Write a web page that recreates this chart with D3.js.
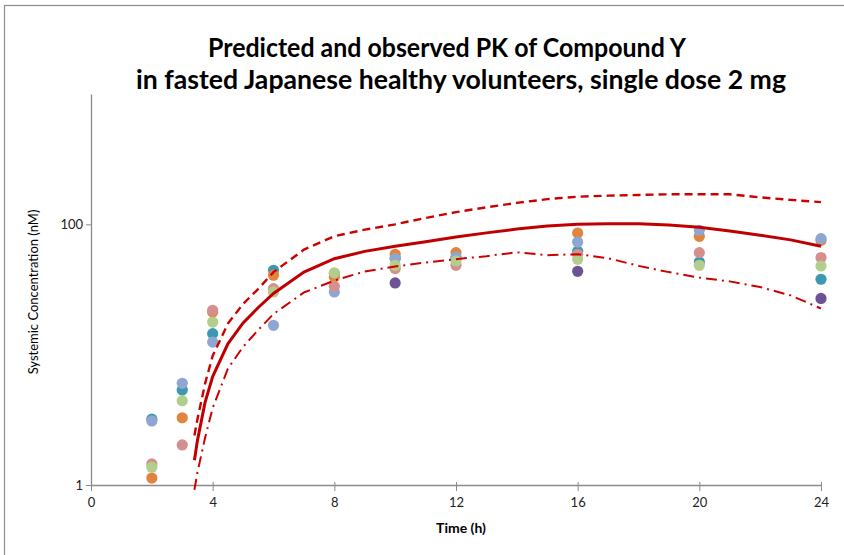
<!DOCTYPE html>
<html>
<head>
<meta charset="utf-8">
<script src="https://cdn.jsdelivr.net/npm/d3@7"></script>
<style>
  body { margin: 0; background: #fff; }
  svg { display: block; }
</style>
</head>
<body>
<svg id="chart" width="844" height="555"></svg>
<script>
// observed sampling times (h)
var obsTimes = [2, 3, 4, 6, 8, 10, 12, 16, 20, 24];
// individual subjects (nM), null = not shown
var subjTeal   = [3.2, 5.35, 14.5, 44.4, 42, 55, 55, 62.1, 51.4, 37.9];
var subjOrange = [1.13, 3.28, 21.2, 40.7, 39.5, 58.9, 60.7, 85.8, 80.9, 75.3];
var subjBlue   = [3.1, 6.03, 12.5, 16.8, 30.3, 54.6, 56.2, 73.1, 89.9, 77.7];
var subjPink   = [1.45, 2.03, 21.9, 32.1, 33.5, 45.8, 48.5, 58.9, 60.7, 55.6];
var subjGreen  = [1.37, 4.43, 17.8, 30.3, 42.4, 48.5, 52.3, 53.9, 48.5, 47.9];
var subjPurple = [null, null, null, null, null, 35.5, null, 43.6, null, 27.0];

// predicted profiles
var predTimes = [3.4, 3.5, 3.75, 4, 4.5, 5, 5.5, 6, 7, 8, 9, 10, 11, 12, 13, 14, 15, 16, 17, 18, 19, 20, 21, 22, 23, 24];
var predMean  = [1.55, 2.2, 4.3, 6.8, 12.1, 17.5, 23, 29.5, 43, 54.5, 62, 68, 73.5, 80, 86, 92, 97, 100, 101, 101, 99, 95, 89, 82.5, 76, 68];
var predUpper = [2.4, 3.2, 6.0, 9.8, 17.3, 24.5, 32, 43, 64, 81, 91, 100, 112, 124, 135, 146, 156, 163, 166, 168, 170, 170, 170, 161, 154, 148];
var predLower = [0.92, 1.25, 2.3, 3.9, 7.8, 11.5, 15.5, 20.5, 30, 37, 43.5, 47.5, 51, 54, 57, 61, 58, 59, 55, 48, 43, 39, 36.5, 33, 28.5, 22.6];

var xTicks = [0, 4, 8, 12, 16, 20, 24];
var yTicks = [1, 100];

var svg = d3.select("#chart");

// outer chart frame
svg.append("rect")
  .attr("x", 4.5).attr("y", 5.5)
  .attr("width", 900).attr("height", 700)
  .attr("fill", "none")
  .attr("stroke", "#8c8c8c")
  .attr("stroke-width", 1.2);

var x = d3.scaleLinear().domain([0, 24]).range([91, 821]);
var y = d3.scaleLog().domain([1, 1000]).range([485, 94]);

// title
var title = svg.append("g")
  .attr("font-family", "Lato, 'Open Sans', sans-serif")
  .attr("font-weight", "bold")
  .attr("font-size", 26)
  .attr("fill", "#000")
  .attr("text-anchor", "middle");
title.append("text").attr("x", 447).attr("y", 57)
  .attr("textLength", 478).attr("lengthAdjust", "spacingAndGlyphs")
  .text("Predicted and observed PK of Compound Y");
title.append("text").attr("x", 461).attr("y", 89)
  .attr("textLength", 650).attr("lengthAdjust", "spacingAndGlyphs")
  .text("in fasted Japanese healthy volunteers, single dose 2 mg");

// y axis
var yAxis = svg.append("g")
  .attr("transform", "translate(91,0)")
  .call(d3.axisLeft(y).tickValues(yTicks).tickFormat(d3.format("d")).tickSize(5).tickSizeOuter(0));
yAxis.select(".domain").attr("stroke", "#8a8a8a").attr("stroke-width", 1.3);
yAxis.selectAll(".tick line").attr("stroke", "#8a8a8a");
yAxis.selectAll(".tick text")
  .attr("font-family", "Lato, sans-serif").attr("font-size", 13).attr("fill", "#222").attr("x", -8);

// x axis
var xAxis = svg.append("g")
  .attr("transform", "translate(0,485)")
  .call(d3.axisBottom(x).tickValues(xTicks).tickSize(6).tickSizeOuter(0));
xAxis.select(".domain").attr("stroke", "#8a8a8a").attr("stroke-width", 1.3);
xAxis.selectAll(".tick line").attr("stroke", "#8a8a8a").attr("y1", -3).attr("y2", 6);
xAxis.selectAll(".tick text")
  .attr("font-family", "Lato, sans-serif").attr("font-size", 13).attr("fill", "#222").attr("y", 13);

// axis titles
svg.append("text")
  .attr("x", 461).attr("y", 533)
  .attr("text-anchor", "middle")
  .attr("font-family", "Lato, sans-serif").attr("font-weight", "bold").attr("font-size", 14)
  .text("Time (h)");
svg.append("text")
  .attr("transform", "translate(38,292) rotate(-90)")
  .attr("text-anchor", "middle")
  .attr("font-family", "Lato, sans-serif").attr("font-size", 13)
  .text("Systemic Concentration (nM)");

// observed points
var subjects = [
  {vals: subjTeal, color: "#3d98b1"},
  {vals: subjOrange, color: "#e0843e"},
  {vals: subjBlue, color: "#8ea6d2"},
  {vals: subjPink, color: "#d48f8e"},
  {vals: subjGreen, color: "#b3ce8c"},
  {vals: subjPurple, color: "#6c5394"}
];
subjects.forEach(function (s) {
  var pts = [];
  obsTimes.forEach(function (t, i) { if (s.vals[i] != null) pts.push({t: t, v: s.vals[i]}); });
  svg.append("g").selectAll("circle")
    .data(pts)
    .join("circle")
    .attr("cx", function (d) { return x(d.t); })
    .attr("cy", function (d) { return y(d.v); })
    .attr("r", 5.6)
    .attr("fill", s.color);
});

// predicted lines
var line = d3.line().x(function (d) { return x(d.t); }).y(function (d) { return y(d.v); });
function series(vals) { return predTimes.map(function (t, i) { return {t: t, v: vals[i]}; }); }

svg.append("path").datum(series(predUpper))
  .attr("d", line).attr("fill", "none")
  .attr("stroke", "#cc0000").attr("stroke-width", 2.4).attr("stroke-dasharray", "8,5");
svg.append("path").datum(series(predLower))
  .attr("d", line).attr("fill", "none")
  .attr("stroke", "#cc0000").attr("stroke-width", 2).attr("stroke-dasharray", "11,5,2,5");
svg.append("path").datum(series(predMean))
  .attr("d", line).attr("fill", "none")
  .attr("stroke", "#c00000").attr("stroke-width", 3);
</script>
</body>
</html>
